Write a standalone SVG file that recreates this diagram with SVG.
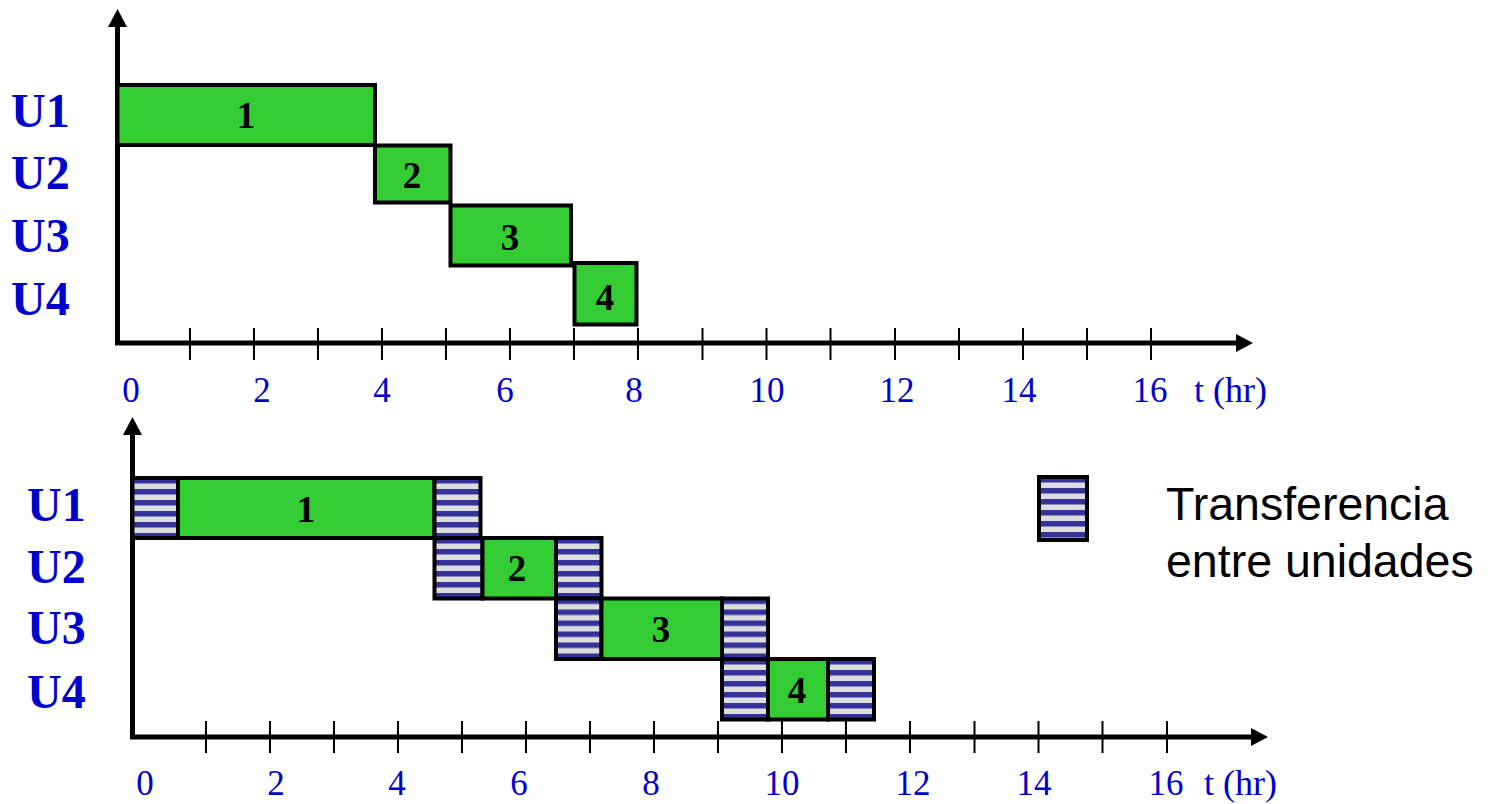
<svg xmlns="http://www.w3.org/2000/svg" width="1494" height="804" viewBox="0 0 1494 804">
  <style>
    .unit { font-family: "Liberation Serif", "Times New Roman", serif; font-weight: bold; font-size: 48px; fill: #0000CC; }
    .tick-lbl { font-family: "Liberation Serif", "Times New Roman", serif; font-size: 35px; fill: #0000CC; text-anchor: middle; }
    .axis-lbl { font-family: "Liberation Serif", "Times New Roman", serif; font-size: 36px; fill: #0000CC; }
    .task { fill: #33CC33; stroke: #000; stroke-width: 4; }
    .xfer { fill: url(#stripes); stroke: #000; stroke-width: 4; }
    .task-lbl { font-family: "Liberation Serif", "Times New Roman", serif; font-weight: bold; font-size: 37px; fill: #000; text-anchor: middle; }
    .axis { fill: none; stroke: #000; stroke-width: 5; stroke-linejoin: miter; stroke-linecap: square; }
    .tick { stroke: #000; stroke-width: 2; }
    .arrow { fill: #000; }
    .legend-txt { font-family: "Liberation Sans", Arial, sans-serif; font-size: 46.5px; fill: #000; }
  </style>
  <defs>
    <!-- horizontal stripes, aligned to the top of each transfer block -->
    <pattern id="stripes" patternUnits="userSpaceOnUse" x="0" y="0" width="10" height="11">
      <rect x="0" y="0" width="10" height="11" fill="#DDDDDD"/>
      <rect x="0" y="0" width="10" height="5.5" fill="#333399"/>
    </pattern>
  </defs>

  <!-- ===== Top chart: sequential processing ===== -->
  <g id="top-axes">
    <polyline class="axis" points="117.5,26 117.5,343 1238,343"/>
    <polygon class="arrow" points="108,27 117.5,9 127,27"/>
    <polygon class="arrow" points="1236,334 1253,343 1236,352"/>
    <g class="tick">
      <line x1="190" y1="328" x2="190" y2="360"/>
      <line x1="254" y1="328" x2="254" y2="360"/>
      <line x1="318" y1="328" x2="318" y2="360"/>
      <line x1="382" y1="328" x2="382" y2="360"/>
      <line x1="446" y1="328" x2="446" y2="360"/>
      <line x1="510" y1="328" x2="510" y2="360"/>
      <line x1="574" y1="328" x2="574" y2="360"/>
      <line x1="638" y1="328" x2="638" y2="360"/>
      <line x1="702.5" y1="328" x2="702.5" y2="360"/>
      <line x1="766.5" y1="328" x2="766.5" y2="360"/>
      <line x1="830.5" y1="328" x2="830.5" y2="360"/>
      <line x1="895" y1="328" x2="895" y2="360"/>
      <line x1="959" y1="328" x2="959" y2="360"/>
      <line x1="1023" y1="328" x2="1023" y2="360"/>
      <line x1="1087" y1="328" x2="1087" y2="360"/>
      <line x1="1151" y1="328" x2="1151" y2="360"/>
    </g>
    <text class="tick-lbl" x="131" y="402">0</text>
    <text class="tick-lbl" x="262" y="402">2</text>
    <text class="tick-lbl" x="382" y="402">4</text>
    <text class="tick-lbl" x="505" y="402">6</text>
    <text class="tick-lbl" x="634" y="402">8</text>
    <text class="tick-lbl" x="767" y="402">10</text>
    <text class="tick-lbl" x="897" y="402">12</text>
    <text class="tick-lbl" x="1019" y="402">14</text>
    <text class="tick-lbl" x="1150" y="402">16</text>
    <text class="axis-lbl" x="1194" y="402">t (hr)</text>
  </g>

  <g id="top-units">
    <text class="unit" x="11" y="127">U1</text>
    <text class="unit" x="11" y="189">U2</text>
    <text class="unit" x="11" y="252">U3</text>
    <text class="unit" x="11" y="315">U4</text>
  </g>

  <g id="top-task1">
    <rect class="task" x="117.5" y="85" width="257.5" height="60"/>
    <text class="task-lbl" x="246" y="128">1</text>
  </g>
  <g id="top-task2">
    <rect class="task" x="375" y="145.5" width="75.5" height="57"/>
    <text class="task-lbl" x="412" y="188">2</text>
  </g>
  <g id="top-task3">
    <rect class="task" x="450.5" y="205.5" width="120.5" height="60"/>
    <text class="task-lbl" x="510" y="250">3</text>
  </g>
  <g id="top-task4">
    <rect class="task" x="574.5" y="263" width="62" height="61.5"/>
    <text class="task-lbl" x="605" y="310">4</text>
  </g>

  <!-- ===== Bottom chart: processing with transfer times ===== -->
  <g id="bottom-axes">
    <polyline class="axis" points="132.5,434 132.5,737 1252,737"/>
    <polygon class="arrow" points="123,435 132.5,417 142,435"/>
    <polygon class="arrow" points="1251,728 1268,737 1251,746"/>
    <g class="tick">
      <line x1="206" y1="721" x2="206" y2="753"/>
      <line x1="270" y1="721" x2="270" y2="753"/>
      <line x1="334" y1="721" x2="334" y2="753"/>
      <line x1="398" y1="721" x2="398" y2="753"/>
      <line x1="462" y1="721" x2="462" y2="753"/>
      <line x1="526" y1="721" x2="526" y2="753"/>
      <line x1="590" y1="721" x2="590" y2="753"/>
      <line x1="654" y1="721" x2="654" y2="753"/>
      <line x1="718" y1="721" x2="718" y2="753"/>
      <line x1="782" y1="721" x2="782" y2="753"/>
      <line x1="846" y1="721" x2="846" y2="753"/>
      <line x1="910" y1="721" x2="910" y2="753"/>
      <line x1="974.5" y1="721" x2="974.5" y2="753"/>
      <line x1="1038.5" y1="721" x2="1038.5" y2="753"/>
      <line x1="1102.5" y1="721" x2="1102.5" y2="753"/>
      <line x1="1167" y1="721" x2="1167" y2="753"/>
    </g>
    <text class="tick-lbl" x="145" y="795">0</text>
    <text class="tick-lbl" x="276" y="795">2</text>
    <text class="tick-lbl" x="397" y="795">4</text>
    <text class="tick-lbl" x="519" y="795">6</text>
    <text class="tick-lbl" x="651" y="795">8</text>
    <text class="tick-lbl" x="782" y="795">10</text>
    <text class="tick-lbl" x="913" y="795">12</text>
    <text class="tick-lbl" x="1034" y="795">14</text>
    <text class="tick-lbl" x="1166" y="795">16</text>
    <text class="axis-lbl" x="1204" y="795">t (hr)</text>
  </g>

  <g id="bottom-units">
    <text class="unit" x="27" y="521">U1</text>
    <text class="unit" x="27" y="583">U2</text>
    <text class="unit" x="27" y="644">U3</text>
    <text class="unit" x="27" y="708">U4</text>
  </g>

  <g id="bottom-row1">
    <rect class="xfer" x="0" y="0" width="45.5" height="60" transform="translate(132.5,478)"/>
    <rect class="task" x="178" y="478" width="256.5" height="60"/>
    <rect class="xfer" x="0" y="0" width="46" height="60" transform="translate(434.5,478)"/>
    <text class="task-lbl" x="306" y="522">1</text>
  </g>
  <g id="bottom-row2">
    <rect class="xfer" x="0" y="0" width="48" height="60.5" transform="translate(434.5,538)"/>
    <rect class="task" x="482.5" y="538" width="73.5" height="60.5"/>
    <rect class="xfer" x="0" y="0" width="45.5" height="60.5" transform="translate(556,538)"/>
    <text class="task-lbl" x="517" y="581">2</text>
  </g>
  <g id="bottom-row3">
    <rect class="xfer" x="0" y="0" width="45.5" height="60.5" transform="translate(556,598.5)"/>
    <rect class="task" x="601.5" y="598.5" width="120.5" height="60.5"/>
    <rect class="xfer" x="0" y="0" width="46" height="60.5" transform="translate(722,598.5)"/>
    <text class="task-lbl" x="661" y="642">3</text>
  </g>
  <g id="bottom-row4">
    <rect class="xfer" x="0" y="0" width="46" height="60.5" transform="translate(722,659)"/>
    <rect class="task" x="768" y="659" width="60" height="60.5"/>
    <rect class="xfer" x="0" y="0" width="46" height="60.5" transform="translate(828,659)"/>
    <text class="task-lbl" x="797" y="703">4</text>
  </g>

  <!-- legend -->
  <g id="legend">
    <rect class="xfer" x="0" y="0" width="48" height="63" transform="translate(1039,477)"/>
    <text class="legend-txt" x="1166" y="520">Transferencia</text>
    <text class="legend-txt" x="1166" y="577">entre unidades</text>
  </g>
</svg>
